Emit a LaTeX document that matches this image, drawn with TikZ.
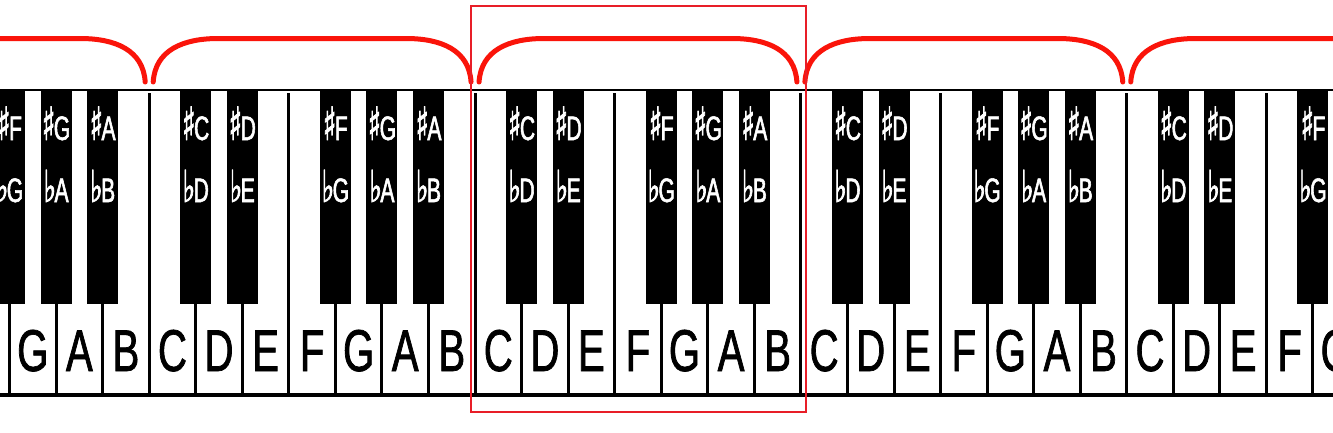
\documentclass[tikz,border=0pt]{standalone}
\usepackage{fontspec}
\setmainfont{Liberation Sans}
\newfontfamily\keyfont[FakeStretch=0.68,FakeBold=1.2]{Liberation Sans}
\newfontfamily\labfont[FakeStretch=0.62,FakeBold=1.6]{Liberation Sans}
\newfontfamily\symfont[FakeStretch=0.6,FakeBold=1.6]{DejaVu Sans}
\definecolor{framered}{RGB}{232,30,40}
\definecolor{bracered}{RGB}{250,20,10}
\newcommand\wname[1]{\ifcase#1 C\or D\or E\or F\or G\or A\or B\fi}
\newcommand\sharpsym{{\symfont\fontsize{46}{46}\selectfont ♯}}
\newcommand\flatsym{{\symfont\fontsize{44}{44}\selectfont ♭}}
\tikzset{
  whitelabel/.style={font=\keyfont\fontsize{59}{59}\selectfont, text=black, inner sep=0pt, anchor=base},
  blacklabel/.style={font=\labfont\fontsize{34}{34}\selectfont, text=white, inner sep=0pt, anchor=base},
  blackkey/.style={fill=black, draw=none, inner sep=0pt, minimum width=31pt, minimum height=214pt},
  divider/.style={line width=3pt},
  rail/.style={line width=#1},
  brace/.style={draw=bracered, line width=5pt, line cap=round},
  frame/.style={draw=framered, line width=2pt}
}
\begin{document}
\begin{tikzpicture}[x=1pt, y=-1pt]
\useasboundingbox (0,0) rectangle (1333,432);
\fill[white] (0,0) rectangle (1333,432);
\begin{scope}
\clip (0,0) rectangle (1333,432);
% dividers between white keys
\foreach \k in {-4,...,26}{
  \pgfmathsetmacro\x{149.2+46.55*\k}
  \draw[divider] (\x,93) -- (\x,394);
}
% top and bottom rails
\draw[rail=2pt] (0,90) -- (1333,90);
\draw[rail=4pt] (0,394.7) -- (1333,394.7);
% white key letters
\foreach \k in {-4,...,25}{
  \pgfmathsetmacro\x{149.2+46.55*\k+23.275}
  \pgfmathtruncatemacro\m{mod(\k+28,7)}
  \node[whitelabel] (w\k) at (\x,371) {\wname{\m}};
}
% black keys
\foreach \k in {-4,...,26}{
  \pgfmathsetmacro\x{149.2+46.55*\k}
  \pgfmathtruncatemacro\m{mod(\k+28,7)}
  \pgfmathtruncatemacro\p{mod(\k+27,7)}
  \ifnum\m=0\else\ifnum\m=3\else
    \node[blackkey] (bk\k) at (\x,197) {};
    \node[blacklabel] (s\k) at (\x,140) {\sharpsym\hspace{-1.5pt}\wname{\p}};
    \node[blacklabel] (f\k) at (\x,202) {\flatsym\hspace{-1.5pt}\wname{\m}};
  \fi\fi
}
% braces
\foreach \a/\b in {-172.6/145.2, 153.2/471.05, 479.05/796.9, 804.9/1122.75, 1130.75/1448.6}{
  \draw[brace] (\a,82) .. controls (\a+2,50) and (\a+30,38.5) .. (\a+65,38.5)
     -- (\b-65,38.5) .. controls (\b-30,38.5) and (\b-2,50) .. (\b,82);
}
\end{scope}
% highlight frame
\draw[frame] (470.7,5.7) rectangle (806,411.7);
\end{tikzpicture}
\end{document}
